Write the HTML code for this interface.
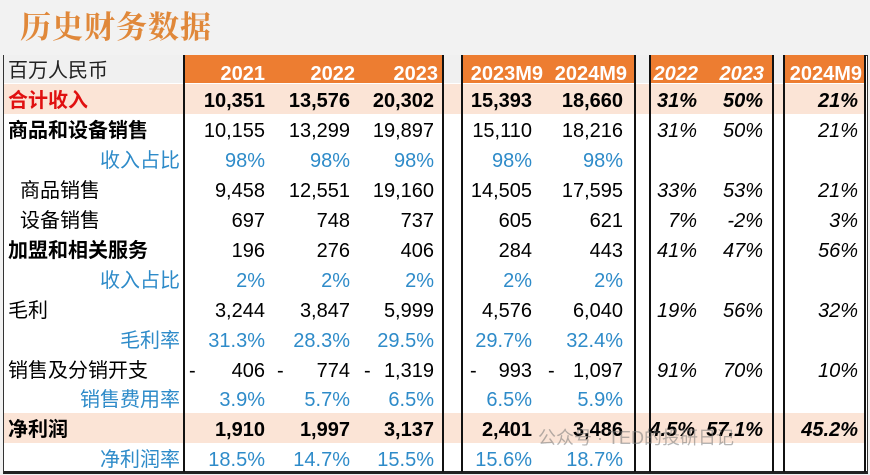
<!DOCTYPE html>
<html><head><meta charset="utf-8"><style>
body{margin:0;width:870px;height:475px;background:#f2f2f2;overflow:hidden;font-family:"Liberation Sans","Noto Sans CJK SC",sans-serif;position:relative}
.t{position:absolute;left:20px;top:2px;font-size:31px;color:#e0883a;font-family:"Noto Serif CJK SC","Noto Sans CJK SC",serif;font-weight:bold;letter-spacing:1px}
.tb{position:absolute;left:3px;top:55px;width:863px;height:415px;background:#fff;border:1px solid #333;border-bottom:3px solid #222}
.hd{position:absolute;top:55px;height:28px;background:#ed7d31}
.gap{position:absolute;top:55px;height:28px;background:#f0f0f0}
.pink{position:absolute;left:4px;width:862px;height:30px;background:#fbe4d6}
.v{position:absolute;top:55px;height:417px;width:2px;background:#111}
.c{position:absolute;font-size:20px;white-space:nowrap;line-height:30px;margin-top:2px}
.r{text-align:right}
.b{font-weight:bold}
.i{font-style:italic}
.bl{color:#2e8bc9}
.w{color:#fff;font-weight:bold}
</style></head><body>
<div class="t">历史财务数据</div>
<div class="tb"></div>
<div class="gap" style="left:4px;width:179px"></div>
<div class="hd" style="left:185px;width:258px"></div>
<div class="gap" style="left:443px;width:19px"></div>
<div class="hd" style="left:462px;width:172px"></div>
<div class="gap" style="left:634px;width:15px"></div>
<div class="hd" style="left:649px;width:123px"></div>
<div class="gap" style="left:772px;width:11px"></div>
<div class="hd" style="left:783px;width:82px"></div>
<div class="pink" style="top:84px"></div>
<div class="pink" style="top:413px"></div>
<div class="v" style="left:183px"></div>
<div class="v" style="left:442px"></div>
<div class="v" style="left:461px"></div>
<div class="v" style="left:634px"></div>
<div class="v" style="left:649px"></div>
<div class="v" style="left:772px"></div>
<div class="v" style="left:783px"></div>
<div class="v" style="left:864px"></div>

<div class="c" style="left:8px;top:54px;color:#222">百万人民币</div>
<div class="c w r" style="right:605px;top:57px">2021</div>
<div class="c w r" style="right:515px;top:57px">2022</div>
<div class="c w r" style="right:432px;top:57px">2023</div>
<div class="c w r" style="right:327px;top:57px">2023M9</div>
<div class="c w r" style="right:243px;top:57px">2024M9</div>
<div class="c w r i" style="right:172px;top:57px">2022</div>
<div class="c w r i" style="right:106px;top:57px">2023</div>
<div class="c w r" style="right:8px;top:57px">2024M9</div>

<div class="c b" style="left:8px;top:84px;color:#e01010">合计收入</div>
<div class="c b r" style="right:605px;top:84px">10,351</div><div class="c b r" style="right:520px;top:84px">13,576</div><div class="c b r" style="right:436px;top:84px">20,302</div><div class="c b r" style="right:338px;top:84px">15,393</div><div class="c b r" style="right:247px;top:84px">18,660</div><div class="c b i r" style="right:173px;top:84px">31%</div><div class="c b i r" style="right:107px;top:84px">50%</div><div class="c b i r" style="right:12px;top:84px">21%</div>

<div class="c b" style="left:8px;top:114px">商品和设备销售</div>
<div class="c r" style="right:605px;top:114px">10,155</div><div class="c r" style="right:520px;top:114px">13,299</div><div class="c r" style="right:436px;top:114px">19,897</div><div class="c r" style="right:338px;top:114px">15,110</div><div class="c r" style="right:247px;top:114px">18,216</div><div class="c i r" style="right:173px;top:114px">31%</div><div class="c i r" style="right:107px;top:114px">50%</div><div class="c i r" style="right:12px;top:114px">21%</div>

<div class="c bl r" style="right:690px;top:144px">收入占比</div>
<div class="c bl r" style="right:605px;top:144px">98%</div><div class="c bl r" style="right:520px;top:144px">98%</div><div class="c bl r" style="right:436px;top:144px">98%</div><div class="c bl r" style="right:338px;top:144px">98%</div><div class="c bl r" style="right:247px;top:144px">98%</div>

<div class="c" style="left:20px;top:174px">商品销售</div>
<div class="c r" style="right:605px;top:174px">9,458</div><div class="c r" style="right:520px;top:174px">12,551</div><div class="c r" style="right:436px;top:174px">19,160</div><div class="c r" style="right:338px;top:174px">14,505</div><div class="c r" style="right:247px;top:174px">17,595</div><div class="c i r" style="right:173px;top:174px">33%</div><div class="c i r" style="right:107px;top:174px">53%</div><div class="c i r" style="right:12px;top:174px">21%</div>

<div class="c" style="left:20px;top:204px">设备销售</div>
<div class="c r" style="right:605px;top:204px">697</div><div class="c r" style="right:520px;top:204px">748</div><div class="c r" style="right:436px;top:204px">737</div><div class="c r" style="right:338px;top:204px">605</div><div class="c r" style="right:247px;top:204px">621</div><div class="c i r" style="right:173px;top:204px">7%</div><div class="c i r" style="right:107px;top:204px">-2%</div><div class="c i r" style="right:12px;top:204px">3%</div>

<div class="c b" style="left:8px;top:234px">加盟和相关服务</div>
<div class="c r" style="right:605px;top:234px">196</div><div class="c r" style="right:520px;top:234px">276</div><div class="c r" style="right:436px;top:234px">406</div><div class="c r" style="right:338px;top:234px">284</div><div class="c r" style="right:247px;top:234px">443</div><div class="c i r" style="right:173px;top:234px">41%</div><div class="c i r" style="right:107px;top:234px">47%</div><div class="c i r" style="right:12px;top:234px">56%</div>

<div class="c bl r" style="right:690px;top:264px">收入占比</div>
<div class="c bl r" style="right:605px;top:264px">2%</div><div class="c bl r" style="right:520px;top:264px">2%</div><div class="c bl r" style="right:436px;top:264px">2%</div><div class="c bl r" style="right:338px;top:264px">2%</div><div class="c bl r" style="right:247px;top:264px">2%</div>

<div class="c" style="left:8px;top:294px">毛利</div>
<div class="c r" style="right:605px;top:294px">3,244</div><div class="c r" style="right:520px;top:294px">3,847</div><div class="c r" style="right:436px;top:294px">5,999</div><div class="c r" style="right:338px;top:294px">4,576</div><div class="c r" style="right:247px;top:294px">6,040</div><div class="c i r" style="right:173px;top:294px">19%</div><div class="c i r" style="right:107px;top:294px">56%</div><div class="c i r" style="right:12px;top:294px">32%</div>

<div class="c bl r" style="right:690px;top:324px">毛利率</div>
<div class="c bl r" style="right:605px;top:324px">31.3%</div><div class="c bl r" style="right:520px;top:324px">28.3%</div><div class="c bl r" style="right:436px;top:324px">29.5%</div><div class="c bl r" style="right:338px;top:324px">29.7%</div><div class="c bl r" style="right:247px;top:324px">32.4%</div>

<div class="c" style="left:8px;top:354px">销售及分销开支</div>
<div class="c" style="left:189px;top:354px">-</div><div class="c" style="left:277px;top:354px">-</div><div class="c" style="left:364px;top:354px">-</div><div class="c" style="left:470px;top:354px">-</div><div class="c" style="left:548px;top:354px">-</div>
<div class="c r" style="right:605px;top:354px">406</div><div class="c r" style="right:520px;top:354px">774</div><div class="c r" style="right:436px;top:354px">1,319</div><div class="c r" style="right:338px;top:354px">993</div><div class="c r" style="right:247px;top:354px">1,097</div><div class="c i r" style="right:173px;top:354px">91%</div><div class="c i r" style="right:107px;top:354px">70%</div><div class="c i r" style="right:12px;top:354px">10%</div>

<div class="c bl r" style="right:690px;top:383px">销售费用率</div>
<div class="c bl r" style="right:605px;top:383px">3.9%</div><div class="c bl r" style="right:520px;top:383px">5.7%</div><div class="c bl r" style="right:436px;top:383px">6.5%</div><div class="c bl r" style="right:338px;top:383px">6.5%</div><div class="c bl r" style="right:247px;top:383px">5.9%</div>

<div class="c b" style="left:8px;top:413px">净利润</div>
<div class="c b r" style="right:605px;top:413px">1,910</div><div class="c b r" style="right:520px;top:413px">1,997</div><div class="c b r" style="right:436px;top:413px">3,137</div><div class="c b r" style="right:338px;top:413px">2,401</div><div class="c b r" style="right:247px;top:413px">3,486</div><div class="c b i r" style="right:175px;top:413px">4.5%</div><div class="c b i r" style="right:107px;top:413px">57.1%</div><div class="c b i r" style="right:12px;top:413px">45.2%</div>
<div class="c" style="left:538px;top:421px;font-size:18px;color:rgba(120,120,120,0.55)">公众号 · TED的投研日记</div>

<div class="c bl r" style="right:690px;top:443px">净利润率</div>
<div class="c bl r" style="right:605px;top:443px">18.5%</div><div class="c bl r" style="right:520px;top:443px">14.7%</div><div class="c bl r" style="right:436px;top:443px">15.5%</div><div class="c bl r" style="right:338px;top:443px">15.6%</div><div class="c bl r" style="right:247px;top:443px">18.7%</div>
</body></html>
